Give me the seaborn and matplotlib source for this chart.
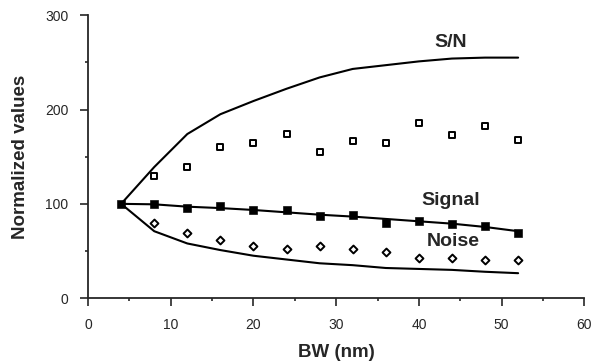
import numpy as np
import pandas as pd
import matplotlib.pyplot as plt
import seaborn as sns
from matplotlib.ticker import MultipleLocator

# データ
bw = [4, 8, 12, 16, 20, 24, 28, 32, 36, 40, 44, 48, 52]
sn_line = [100, 139, 174, 195, 209, 222, 234, 243, 247, 251, 254, 255, 255]
sn_pts = [100, 129, 139, 160, 165, 174, 155, 167, 164, 186, 173, 182, 168]
signal_line = [100, 99.5, 97, 95.5, 93.5, 91, 88.5, 86.5, 84, 81.5, 79, 75.5, 71]
signal_pts = [100, 100, 96, 98, 93, 93, 87, 88, 80, 82, 79, 76, 69]
noise_line = [100, 71, 58, 51, 45, 41, 37, 35, 32, 31, 30, 28, 26.5]
noise_pts = [100, 80, 69, 62, 55, 52, 55, 52, 49, 43, 43, 41, 41]

df = pd.DataFrame({'BW': bw, 'SN': sn_line, 'SNp': sn_pts,
                   'Sig': signal_line, 'Sigp': signal_pts,
                   'Noi': noise_line, 'Noip': noise_pts})

sns.set_style("ticks")
plt.rcParams['font.family'] = ['Liberation Sans', 'DejaVu Sans']

fig, ax = plt.subplots(figsize=(5.95, 3.61), dpi=100)
fig.subplots_adjust(left=0.148, right=0.982, bottom=0.174, top=0.958)

# 線
for col in ['SN', 'Sig', 'Noi']:
    sns.lineplot(data=df, x='BW', y=col, ax=ax, color='black', linewidth=1.5)

# 点
sns.scatterplot(data=df.iloc[1:], x='BW', y='SNp', ax=ax, marker='s', s=22,
                facecolor='white', edgecolor='black', linewidth=1.4)
sns.scatterplot(data=df, x='BW', y='Sigp', ax=ax, marker='s', s=30,
                color='black', edgecolor='black')
sns.scatterplot(data=df.iloc[1:], x='BW', y='Noip', ax=ax, marker='D', s=16,
                facecolor='white', edgecolor='black', linewidth=1.4)

# ラベル
ax.text(43.8, 271, 'S/N', fontsize=14, fontweight='bold', ha='center', va='center')
ax.text(43.8, 104, 'Signal', fontsize=14, fontweight='bold', ha='center', va='center')
ax.text(44.2, 60, 'Noise', fontsize=14, fontweight='bold', ha='center', va='center')

ax.set_xlim(0, 60)
ax.set_ylim(0, 300)
ax.xaxis.set_major_locator(MultipleLocator(10))
ax.xaxis.set_minor_locator(MultipleLocator(5))
ax.yaxis.set_major_locator(MultipleLocator(100))
ax.yaxis.set_minor_locator(MultipleLocator(50))
ax.tick_params(which='major', length=6, width=1.2, labelsize=10)
ax.tick_params(which='minor', length=2.5, width=1.2)
ax.tick_params(axis='x', which='major', pad=8)
ax.tick_params(axis='y', which='major', pad=8)
ax.set_xlabel('BW (nm)', fontsize=13.5, fontweight='bold', labelpad=9)
ax.set_ylabel('Normalized values', fontsize=13.5, fontweight='bold', labelpad=12)
sns.despine(ax=ax)
for sp in ['left', 'bottom']:
    ax.spines[sp].set_linewidth(1.3)

plt.savefig('out.png', dpi=100)
